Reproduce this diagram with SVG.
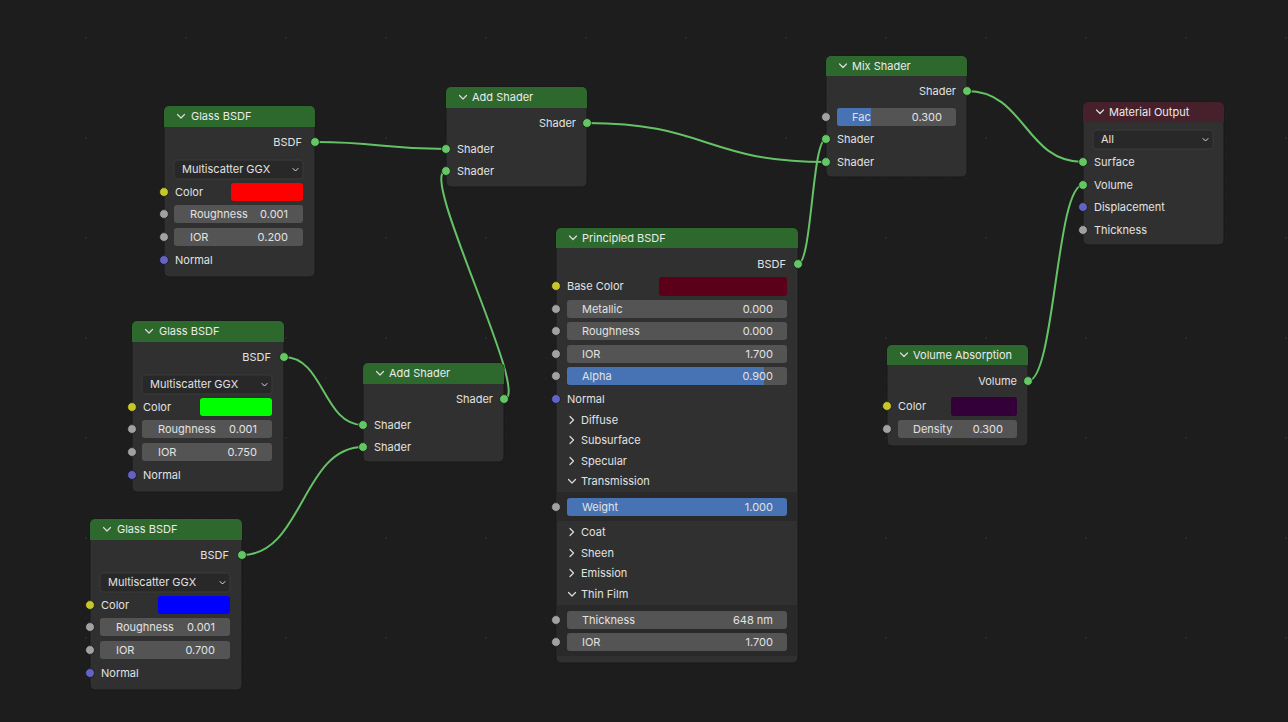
<svg xmlns="http://www.w3.org/2000/svg" width="1288" height="722" viewBox="0 0 1288 722">
<style>
text{font-family:Inter,"DejaVu Sans",sans-serif;font-size:11px;fill:#e2e2e2}
.t{fill:#ebebeb}
.end{text-anchor:end}
.body{fill:#303030;stroke:#181818;stroke-width:1}
.hg{fill:#2d682d}
.hr{fill:#46202a}
.fld{fill:#545454}
.blue{fill:#4772b3}
.dd{fill:#282828;stroke:#3a3a3a;stroke-width:1}
.panel{fill:#292929}
.chev{fill:none;stroke:#dcdcdc;stroke-width:1.2;stroke-linecap:round;stroke-linejoin:round}
.sg{fill:#63c763;stroke:#151515;stroke-width:0.7}
.sy{fill:#c7c729;stroke:#151515;stroke-width:0.7}
.sf{fill:#a1a1a1;stroke:#151515;stroke-width:0.7}
.sv{fill:#6363c7;stroke:#151515;stroke-width:0.7}
circle{r:4.4px}
.link{fill:none;stroke:#66c266;stroke-width:2}
</style>
<defs>
<pattern id="minor" width="20" height="20" patternUnits="userSpaceOnUse" x="5" y="17">
<circle cx="0.5" cy="0.5" r="1" fill="#242424" style="r:1px"/>
</pattern>
<pattern id="major" width="100" height="100" patternUnits="userSpaceOnUse" x="85" y="37">
<circle cx="0.5" cy="0.5" r="1.3" fill="#2c2c2c" style="r:1.3px"/>
</pattern>
</defs>
<rect width="1288" height="722" fill="#1d1d1d"/>
<rect width="1288" height="722" fill="url(#minor)"/>
<rect width="1288" height="722" fill="url(#major)"/>

<g id="connectors">
<path class="link" d="M315,142 C380,142 381,149 446,149"/>
<path class="link" d="M284,357 C324,357 323,425 363,425"/>
<path class="link" d="M242,555 C303,555 302,447 363,447"/>
<path class="link" d="M504,399 C533,399 417,171 446,171"/>
<path class="link" d="M587,123 C707,123 706,162 826,162"/>
<path class="link" d="M798,264 C812,264 812,139 826,139"/>
<path class="link" d="M967,91 C1025,91 1025,162 1083,162"/>
<path class="link" d="M1028,381 C1055,381 1056,185 1083,185"/>
</g>

<g id="glass1" transform="translate(164,106)">
<rect class="body" x="0" y="0" width="151" height="171" rx="5"/>
<path class="hg" d="M0,21 V5 A5,5 0 0 1 5,0 H146 A5,5 0 0 1 151,5 V21 Z"/>
<path class="chev" d="M13.5,8.5 L17,12 L20.5,8.5"/>
<text class="t" x="27" y="14">Glass BSDF</text>
<text class="end" x="138" y="40">BSDF</text>
<circle class="sg" cx="151" cy="36" r="4.4"/>
<rect class="dd" x="10" y="54" width="129" height="19" rx="3"/>
<text x="18" y="67">Multiscatter GGX</text>
<path class="chev" d="M129,62.5 L131.5,65 L134,62.5" style="stroke-width:1"/>
<circle class="sy" cx="0" cy="86" r="4.4"/>
<text x="11" y="90">Color</text>
<rect x="67" y="77" width="72" height="18" rx="3" fill="#ff0000"/>
<rect class="fld" x="10" y="99" width="129" height="18" rx="3"/>
<circle class="sf" cx="0" cy="108" r="4.4"/>
<text x="26" y="112">Roughness</text>
<text class="end" x="124" y="112">0.001</text>
<rect class="fld" x="10" y="122" width="129" height="18" rx="3"/>
<circle class="sf" cx="0" cy="131" r="4.4"/>
<text x="26" y="135">IOR</text>
<text class="end" x="124" y="135">0.200</text>
<circle class="sv" cx="0" cy="154" r="4.4"/>
<text x="11" y="158">Normal</text>
</g>

<g id="glass2" transform="translate(132,321)">
<rect class="body" x="0" y="0" width="152" height="171" rx="5"/>
<path class="hg" d="M0,21 V5 A5,5 0 0 1 5,0 H147 A5,5 0 0 1 152,5 V21 Z"/>
<path class="chev" d="M13.5,8.5 L17,12 L20.5,8.5"/>
<text class="t" x="27" y="14">Glass BSDF</text>
<text class="end" x="139" y="40">BSDF</text>
<circle class="sg" cx="152" cy="36" r="4.4"/>
<rect class="dd" x="10" y="54" width="130" height="19" rx="3"/>
<text x="18" y="67">Multiscatter GGX</text>
<path class="chev" d="M130,62.5 L132.5,65 L135,62.5" style="stroke-width:1"/>
<circle class="sy" cx="0" cy="86" r="4.4"/>
<text x="11" y="90">Color</text>
<rect x="68" y="77" width="72" height="18" rx="3" fill="#00ff00"/>
<rect class="fld" x="10" y="99" width="130" height="18" rx="3"/>
<circle class="sf" cx="0" cy="108" r="4.4"/>
<text x="26" y="112">Roughness</text>
<text class="end" x="125" y="112">0.001</text>
<rect class="fld" x="10" y="122" width="130" height="18" rx="3"/>
<circle class="sf" cx="0" cy="131" r="4.4"/>
<text x="26" y="135">IOR</text>
<text class="end" x="125" y="135">0.750</text>
<circle class="sv" cx="0" cy="154" r="4.4"/>
<text x="11" y="158">Normal</text>
</g>

<g id="glass3" transform="translate(90,519)">
<rect class="body" x="0" y="0" width="152" height="171" rx="5"/>
<path class="hg" d="M0,21 V5 A5,5 0 0 1 5,0 H147 A5,5 0 0 1 152,5 V21 Z"/>
<path class="chev" d="M13.5,8.5 L17,12 L20.5,8.5"/>
<text class="t" x="27" y="14">Glass BSDF</text>
<text class="end" x="139" y="40">BSDF</text>
<circle class="sg" cx="152" cy="36" r="4.4"/>
<rect class="dd" x="10" y="54" width="130" height="19" rx="3"/>
<text x="18" y="67">Multiscatter GGX</text>
<path class="chev" d="M130,62.5 L132.5,65 L135,62.5" style="stroke-width:1"/>
<circle class="sy" cx="0" cy="86" r="4.4"/>
<text x="11" y="90">Color</text>
<rect x="68" y="77" width="72" height="18" rx="3" fill="#0000ff"/>
<rect class="fld" x="10" y="99" width="130" height="18" rx="3"/>
<circle class="sf" cx="0" cy="108" r="4.4"/>
<text x="26" y="112">Roughness</text>
<text class="end" x="125" y="112">0.001</text>
<rect class="fld" x="10" y="122" width="130" height="18" rx="3"/>
<circle class="sf" cx="0" cy="131" r="4.4"/>
<text x="26" y="135">IOR</text>
<text class="end" x="125" y="135">0.700</text>
<circle class="sv" cx="0" cy="154" r="4.4"/>
<text x="11" y="158">Normal</text>
</g>

<g id="add1" transform="translate(446,87)">
<rect class="body" x="0" y="0" width="141" height="100" rx="5"/>
<path class="hg" d="M0,21 V5 A5,5 0 0 1 5,0 H136 A5,5 0 0 1 141,5 V21 Z"/>
<path class="chev" d="M13.5,8.5 L17,12 L20.5,8.5"/>
<text class="t" x="26" y="14">Add Shader</text>
<text class="end" x="130" y="40">Shader</text>
<circle class="sg" cx="141" cy="36" r="4.4"/>
<circle class="sg" cx="0" cy="62" r="4.4"/>
<text x="11" y="66">Shader</text>
<circle class="sg" cx="0" cy="84" r="4.4"/>
<text x="11" y="88">Shader</text>
</g>

<g id="add2" transform="translate(363,363)">
<rect class="body" x="0" y="0" width="141" height="99" rx="5"/>
<path class="hg" d="M0,21 V5 A5,5 0 0 1 5,0 H136 A5,5 0 0 1 141,5 V21 Z"/>
<path class="chev" d="M13.5,8.5 L17,12 L20.5,8.5"/>
<text class="t" x="26" y="14">Add Shader</text>
<text class="end" x="130" y="40">Shader</text>
<circle class="sg" cx="141" cy="36" r="4.4"/>
<circle class="sg" cx="0" cy="62" r="4.4"/>
<text x="11" y="66">Shader</text>
<circle class="sg" cx="0" cy="84" r="4.4"/>
<text x="11" y="88">Shader</text>
</g>

<g id="principled" transform="translate(556,228)">
<rect class="body" x="0" y="0" width="242" height="435" rx="5"/>
<path class="hg" d="M0,20 V5 A5,5 0 0 1 5,0 H237 A5,5 0 0 1 242,5 V20 Z"/>
<path class="chev" d="M13.5,8 L17,11.5 L20.5,8"/>
<text class="t" x="26" y="14">Principled BSDF</text>
<text class="end" x="230" y="40">BSDF</text>
<circle class="sg" cx="242" cy="36" r="4.4"/>
<circle class="sy" cx="0" cy="58" r="4.4"/>
<text x="11" y="62">Base Color</text>
<rect x="103" y="49" width="128" height="19" rx="3" fill="#5b0018"/>
<rect class="fld" x="11" y="72" width="220" height="18" rx="3"/>
<circle class="sf" cx="0" cy="81" r="4.4"/>
<text x="26" y="85">Metallic</text>
<text class="end" x="217" y="85">0.000</text>
<rect class="fld" x="11" y="94" width="220" height="18" rx="3"/>
<circle class="sf" cx="0" cy="103" r="4.4"/>
<text x="26" y="107">Roughness</text>
<text class="end" x="217" y="107">0.000</text>
<rect class="fld" x="11" y="117" width="220" height="18" rx="3"/>
<circle class="sf" cx="0" cy="126" r="4.4"/>
<text x="26" y="130">IOR</text>
<text class="end" x="217" y="130">1.700</text>
<rect class="fld" x="11" y="139" width="220" height="18" rx="3"/>
<path class="blue" d="M14,139 H208 V157 H14 A3,3 0 0 1 11,154 V142 A3,3 0 0 1 14,139 Z"/>
<circle class="sf" cx="0" cy="148" r="4.4"/>
<text x="26" y="152">Alpha</text>
<text class="end" x="217" y="152">0.900</text>
<circle class="sv" cx="0" cy="171" r="4.4"/>
<text x="11" y="175">Normal</text>
<path class="chev" d="M14,188.5 L17.5,192 L14,195.5"/>
<text x="25" y="196">Diffuse</text>
<path class="chev" d="M14,208.5 L17.5,212 L14,215.5"/>
<text x="25" y="216">Subsurface</text>
<path class="chev" d="M14,229.5 L17.5,233 L14,236.5"/>
<text x="25" y="237">Specular</text>
<path class="chev" d="M12.5,251.5 L16,255 L19.5,251.5"/>
<text x="25" y="257">Transmission</text>
<rect class="panel" x="0.5" y="264" width="241" height="29"/>
<rect class="blue" x="11" y="270" width="220" height="18" rx="3"/>
<circle class="sf" cx="0" cy="279" r="4.4"/>
<text x="26" y="283">Weight</text>
<text class="end" x="217" y="283">1.000</text>
<path class="chev" d="M14,300.5 L17.5,304 L14,307.5"/>
<text x="25" y="308">Coat</text>
<path class="chev" d="M14,321.5 L17.5,325 L14,328.5"/>
<text x="25" y="329">Sheen</text>
<path class="chev" d="M14,341.5 L17.5,345 L14,348.5"/>
<text x="25" y="349">Emission</text>
<path class="chev" d="M12.5,364.5 L16,368 L19.5,364.5"/>
<text x="25" y="370">Thin Film</text>
<rect class="panel" x="0.5" y="377" width="241" height="51"/>
<rect class="fld" x="11" y="383" width="220" height="18" rx="3"/>
<circle class="sf" cx="0" cy="392" r="4.4"/>
<text x="26" y="396">Thickness</text>
<text class="end" x="217" y="396">648 nm</text>
<rect class="fld" x="11" y="405" width="220" height="18" rx="3"/>
<circle class="sf" cx="0" cy="414" r="4.4"/>
<text x="26" y="418">IOR</text>
<text class="end" x="217" y="418">1.700</text>
</g>

<g id="mix" transform="translate(826,56)">
<rect class="body" x="0" y="0" width="141" height="121" rx="5"/>
<path class="hg" d="M0,20 V5 A5,5 0 0 1 5,0 H136 A5,5 0 0 1 141,5 V20 Z"/>
<path class="chev" d="M13.5,8 L17,11.5 L20.5,8"/>
<text class="t" x="26" y="14">Mix Shader</text>
<text class="end" x="130" y="39">Shader</text>
<circle class="sg" cx="141" cy="35" r="4.4"/>
<rect class="fld" x="11" y="52" width="119" height="18" rx="3"/>
<path class="blue" d="M14,52 H45 V70 H14 A3,3 0 0 1 11,67 V55 A3,3 0 0 1 14,52 Z"/>
<circle class="sf" cx="0" cy="61" r="4.4"/>
<text x="26" y="65">Fac</text>
<text class="end" x="116" y="65">0.300</text>
<circle class="sg" cx="0" cy="83" r="4.4"/>
<text x="11" y="87">Shader</text>
<circle class="sg" cx="0" cy="106" r="4.4"/>
<text x="11" y="110">Shader</text>
</g>

<g id="output" transform="translate(1083,102)">
<rect class="body" x="0" y="0" width="141" height="143" rx="5"/>
<path class="hr" d="M0,20 V5 A5,5 0 0 1 5,0 H136 A5,5 0 0 1 141,5 V20 Z"/>
<path class="chev" d="M13.5,8 L17,11.5 L20.5,8"/>
<text class="t" x="26" y="14">Material Output</text>
<rect class="dd" x="10" y="28" width="120" height="19" rx="3"/>
<text x="18" y="41">All</text>
<path class="chev" d="M120,36.5 L122.5,39 L125,36.5" style="stroke-width:1"/>
<circle class="sg" cx="0" cy="60" r="4.4"/>
<text x="11" y="64">Surface</text>
<circle class="sg" cx="0" cy="83" r="4.4"/>
<text x="11" y="87">Volume</text>
<circle class="sv" cx="0" cy="105" r="4.4"/>
<text x="11" y="109">Displacement</text>
<circle class="sf" cx="0" cy="128" r="4.4"/>
<text x="11" y="132">Thickness</text>
</g>

<g id="volume" transform="translate(887,345)">
<rect class="body" x="0" y="0" width="141" height="101" rx="5"/>
<path class="hg" d="M0,20 V5 A5,5 0 0 1 5,0 H136 A5,5 0 0 1 141,5 V20 Z"/>
<path class="chev" d="M13.5,8 L17,11.5 L20.5,8"/>
<text class="t" x="26" y="14">Volume Absorption</text>
<text class="end" x="130" y="40">Volume</text>
<circle class="sg" cx="141" cy="36" r="4.4"/>
<circle class="sy" cx="0" cy="61" r="4.4"/>
<text x="11" y="65">Color</text>
<rect x="64" y="52" width="66" height="19" rx="3" fill="#33003a"/>
<rect class="fld" x="11" y="75" width="119" height="18" rx="3"/>
<circle class="sf" cx="0" cy="84" r="4.4"/>
<text x="26" y="88">Density</text>
<text class="end" x="116" y="88">0.300</text>
</g>
</svg>
